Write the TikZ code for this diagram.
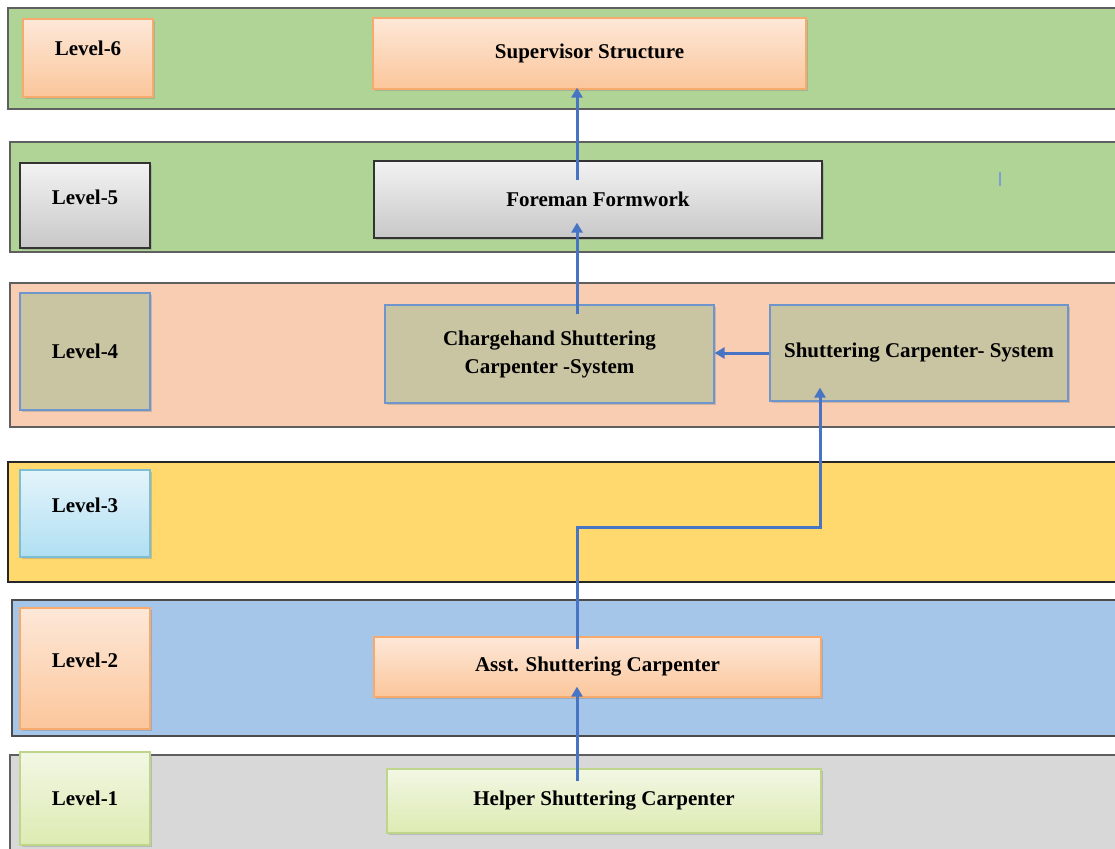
\documentclass[tikz,border=0pt]{standalone}
\usepackage{fontspec}
\setmainfont{Liberation Serif}
\usetikzlibrary{arrows.meta,shadows}

\definecolor{bandgreen}{RGB}{176,212,150}
\definecolor{bandpeach}{RGB}{248,205,178}
\definecolor{bandyellow}{RGB}{255,217,110}
\definecolor{bandblue}{RGB}{165,198,232}
\definecolor{bandgray}{RGB}{216,216,216}
\definecolor{bandline}{RGB}{95,95,95}
\definecolor{orangetop}{RGB}{253,232,216}
\definecolor{orangebot}{RGB}{251,198,155}
\definecolor{orangeline}{RGB}{246,170,110}
\definecolor{graytop}{RGB}{242,242,242}
\definecolor{graybot}{RGB}{200,200,200}
\definecolor{tanfill}{RGB}{201,196,161}
\definecolor{tanline}{RGB}{110,150,205}
\definecolor{bluetop}{RGB}{228,244,251}
\definecolor{bluebot}{RGB}{176,223,242}
\definecolor{blueline}{RGB}{125,190,210}
\definecolor{greentop}{RGB}{242,247,228}
\definecolor{greenbot}{RGB}{221,235,178}
\definecolor{greenline}{RGB}{190,214,140}
\definecolor{arrowblue}{RGB}{72,116,196}

\begin{document}
\begin{tikzpicture}[x=0.5pt,y=-0.5pt,
	every node/.style={font=\fontsize{10.5}{14}\selectfont\bfseries,inner sep=0pt,align=center},
	band/.style={draw=bandline,line width=0.6pt},
	box/.style={rectangle,drop shadow={opacity=0.35,shadow xshift=1pt,shadow yshift=-1pt}},
	orangebox/.style={box,top color=orangetop,bottom color=orangebot,draw=orangeline,line width=0.6pt},
	graybox/.style={box,top color=graytop,bottom color=graybot,draw=black!80,line width=0.6pt},
	tanbox/.style={box,fill=tanfill,draw=tanline,line width=0.6pt},
	bluebox/.style={box,top color=bluetop,bottom color=bluebot,draw=blueline,line width=0.6pt},
	greenbox/.style={box,top color=greentop,bottom color=greenbot,draw=greenline,line width=0.6pt},
	raised/.style={text depth=#1},
	flow/.style={draw=arrowblue,line width=1.5pt,-{Triangle[length=5pt,width=5.5pt]}}]
	\clip (0,0) rectangle (1115,848);

	% level bands
	\draw[band,fill=bandgreen] (8,8) rectangle (1120,109);
	\draw[band,fill=bandgreen] (10,142) rectangle (1120,252);
	\draw[band,fill=bandpeach] (10,283) rectangle (1120,427);
	\draw[band,fill=bandyellow,draw=black!85] (8,462) rectangle (1120,582);
	\draw[band,fill=bandblue,draw=black!70] (12,600) rectangle (1120,736);
	\draw[band,fill=bandgray] (10,755) rectangle (1120,860);

	% level labels
	\node[orangebox,raised=10pt,minimum width=65pt,minimum height=39pt] (lv6) at (88,58) {Level-6};
	\node[graybox,raised=8pt,minimum width=65pt,minimum height=42.5pt] (lv5) at (85,205.5) {Level-5};
	\node[tanbox,minimum width=65pt,minimum height=58.5pt] (lv4) at (85,351.5) {Level-4};
	\node[bluebox,raised=8pt,minimum width=65pt,minimum height=43.5pt] (lv3) at (85,513.5) {Level-3};
	\node[orangebox,raised=8pt,minimum width=65pt,minimum height=60.5pt] (lv2) at (85,668.5) {Level-2};
	\node[greenbox,minimum width=65pt,minimum height=46.5pt] (lv1) at (85,798.5) {Level-1};

	% positions
	\node[orangebox,minimum width=216.5pt,minimum height=35.5pt] (sup) at (589.5,53.5) {Supervisor Structure};
	\node[graybox,minimum width=224pt,minimum height=38.5pt] (fore) at (598,199.5) {Foreman Formwork};
	\node[tanbox,minimum width=164.5pt,minimum height=49pt] (charge) at (549.5,354) {Chargehand Shuttering\\Carpenter -System};
	\node[tanbox,minimum width=149pt,minimum height=48pt] (shut) at (919,353) {Shuttering Carpenter- System};
	\node[orangebox,minimum width=223.5pt,minimum height=30pt] (asst) at (597.5,667) {Asst. Shuttering Carpenter};
	\node[greenbox,minimum width=217pt,minimum height=32pt] (help) at (604,801) {Helper Shuttering Carpenter};

	\coordinate (spine) at (577,0);
	\coordinate (turn) at (820,527);

	% promotions
	\draw[flow] ([yshift=-6.5pt]spine |- help.north) -- ([yshift=5.5pt]spine |- asst.south);
	\draw[flow] ([yshift=-6.5pt]spine |- asst.north) |- (turn) -- ([yshift=7pt]turn |- shut.south);
	\draw[flow] (shut.west) -- (shut.west -| charge.east);
	\draw[flow] ([yshift=-5pt]spine |- charge.north) -- ([yshift=8pt]spine |- fore.south);
	\draw[flow] ([yshift=-10pt]spine |- fore.north) -- ([yshift=1pt]spine |- sup.south);

	\draw[arrowblue!70,line width=1pt] (1000,172) -- (1000,186);
\end{tikzpicture}
\end{document}
